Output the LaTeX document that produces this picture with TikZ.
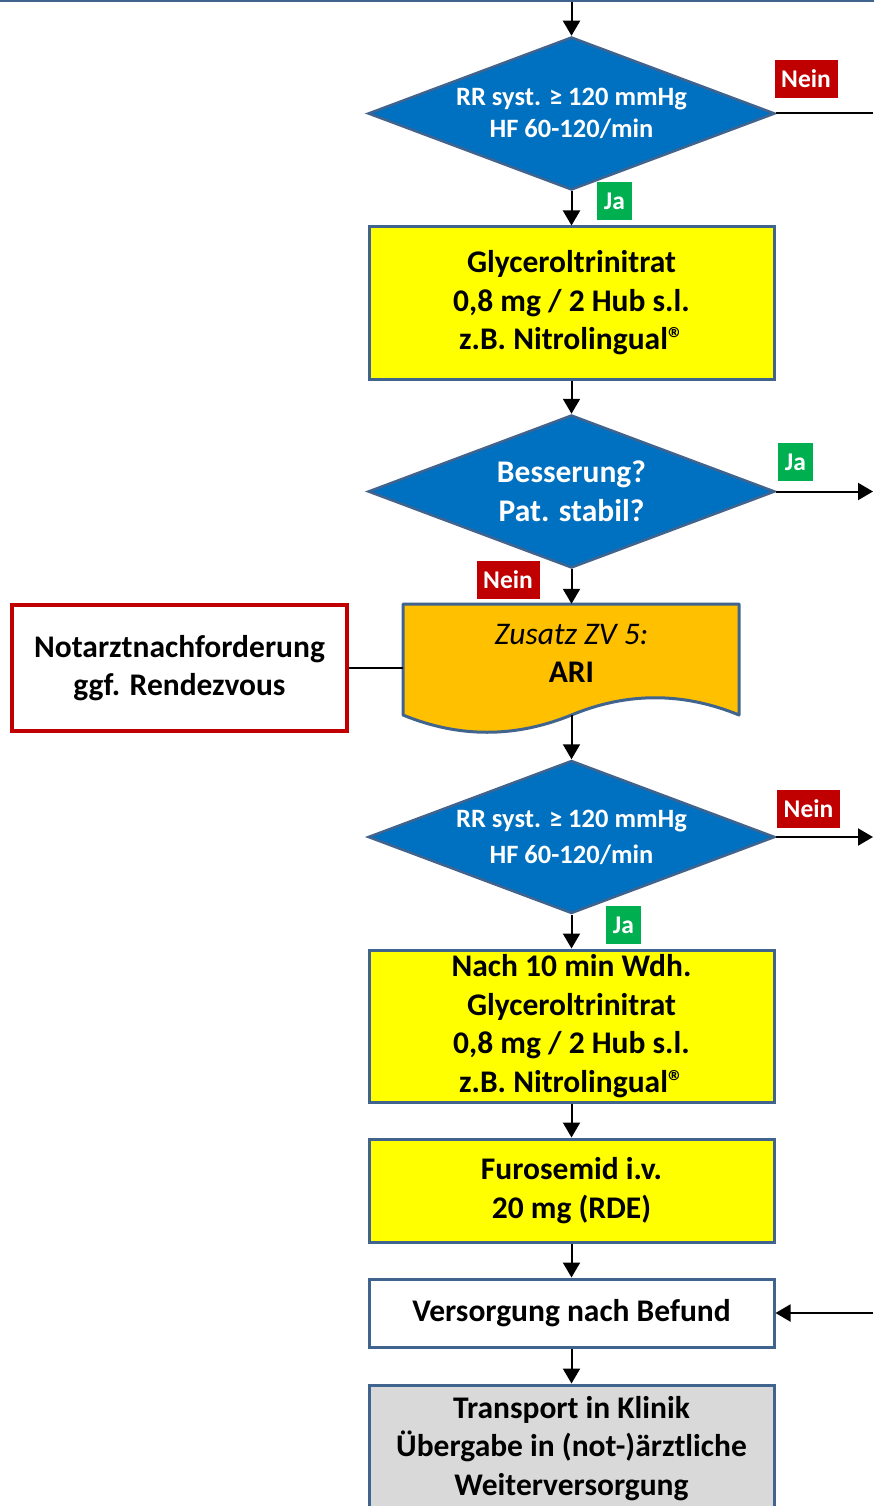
\documentclass[tikz,border=0pt]{standalone}
\usepackage{fontspec}
\setmainfont{Carlito}
\usetikzlibrary{shapes.geometric,arrows.meta}

\definecolor{edge}{HTML}{41648F}
\definecolor{dblue}{HTML}{0070C0}
\definecolor{lyellow}{HTML}{FFFF00}
\definecolor{lorange}{HTML}{FFC000}
\definecolor{lred}{HTML}{C00000}
\definecolor{lgreen}{HTML}{00B050}
\definecolor{lgray}{HTML}{D9D9D9}

\tikzset{
  proc/.style={rectangle, draw=edge, line width=3pt, minimum width=405pt,
    align=center, inner sep=0pt, font=\bfseries\fontsize{31.5}{38.5}\selectfont},
  decision/.style={diamond, aspect=2.66, draw=edge, fill=dblue, line width=2.5pt,
    minimum width=407pt, minimum height=153pt, inner sep=0pt, text=white,
    align=center},
  tag/.style={font=\bfseries\fontsize{25.5}{30}\selectfont, text=white,
    minimum height=38pt, inner sep=0pt},
  nein/.style={tag, fill=lred, minimum width=63pt},
  ja/.style={tag, fill=lgreen, minimum width=35pt},
  flow/.style={draw=black, line width=2pt, -{Triangle[length=15pt,width=17pt]}},
  link/.style={draw=black, line width=2pt},
}

\begin{document}
\begin{tikzpicture}[x=1pt,y=-1pt]
\useasboundingbox (0,0) rectangle (873,1506);

% box of the preceding step, only its lower edge is in view
\node (prev) [rectangle, draw=edge, line width=3pt, minimum width=900pt,
  minimum height=100pt] at (436.5,-49) {};

% first check
\node (d1) [decision, font=\bfseries\fontsize{26.5}{32}\selectfont]
  at (571.5,113.5) {RR syst. ≥ 120 mmHg\\HF 60-120/min};
\node (n1) [nein] at (806,79) {Nein};
\node (j1) [ja] at (614.5,201) {Ja};
\coordinate (out1) at (873,113.5);

\node (b1) [proc, fill=lyellow, minimum height=152pt] at (571.5,303)
  {Glyceroltrinitrat\\0,8 mg / 2 Hub s.l.\\z.B. Nitrolingual®};

% second check
\node (d2) [decision, font=\bfseries\fontsize{31.5}{39}\selectfont]
  at (571.5,491.5) {Besserung?\\Pat. stabil?};
\node (j2) [ja] at (795.5,462) {Ja};
\node (n2) [nein] at (508,579.5) {Nein};
\coordinate (out2) at (873,491.5);

% document shape: ARI
\node (doc) [rectangle, minimum width=336pt, minimum height=111pt, inner sep=0pt]
  at (571.5,659.5) {};
\draw[draw=edge, fill=lorange, line width=3pt, line join=round]
  (403,604) -- (739,604) -- (739,715)
  .. controls (683,692) and (627,692) .. (571.5,715)
  .. controls (515,738) and (459,738) .. (403,715) -- cycle;
\node (doctext) [align=center, font=\fontsize{31.5}{38}\selectfont] at (571.5,653)
  {\textit{Zusatz ZV 5:}\\\textbf{ARI}};

\node (na) [rectangle, draw=lred, fill=white, line width=3.5pt, minimum width=335pt,
  minimum height=126pt, align=center, inner sep=0pt,
  font=\bfseries\fontsize{31.5}{38}\selectfont] at (179.5,668)
  {Notarztnachforderung\\ggf. Rendezvous};

% third check
\node (d3) [decision, font=\bfseries\fontsize{26.5}{36}\selectfont]
  at (571.5,837) {RR syst. ≥ 120 mmHg\\HF 60-120/min};
\node (n3) [nein] at (808.5,808.5) {Nein};
\node (j3) [ja] at (623.5,925) {Ja};
\coordinate (out3) at (873,837);

\node (b2) [proc, fill=lyellow, minimum height=152pt] at (571.5,1026)
  {Nach 10 min Wdh.\\Glyceroltrinitrat\\0,8 mg / 2 Hub s.l.\\z.B. Nitrolingual®};
\node (b3) [proc, fill=lyellow, minimum height=103pt] at (571.5,1190.5)
  {Furosemid i.v.\\20 mg (RDE)};
\node (b4) [proc, fill=white, minimum height=68pt] at (571.5,1313)
  {Versorgung nach Befund};
\coordinate (in4) at (873,1313);
\node (b5) [proc, fill=lgray, minimum height=127pt] at (571.5,1448.5)
  {Transport in Klinik\\Übergabe in (not-)ärztliche\\Weiterversorgung};

% connectors
\draw[flow] (prev.south -| d1.north) -- (d1.north);
\draw[link] (d1.east) -- (out1);
\draw[flow] (d1.south) -- (b1.north);
\draw[flow] (b1.south) -- (d2.north);
\draw[flow] (d2.east) -- (out2);
\draw[flow] (d2.south) -- (doc.north);
\draw[link] (na.east) -- (na.east -| doc.west);
\draw[flow] (doc.south) -- (d3.north);
\draw[flow] (d3.east) -- (out3);
\draw[flow] (d3.south) -- (b2.north);
\draw[flow] (b2.south) -- (b3.north);
\draw[flow] (b3.south) -- (b4.north);
\draw[flow] (in4) -- (b4.east);
\draw[flow] (b4.south) -- (b5.north);
\end{tikzpicture}
\end{document}
